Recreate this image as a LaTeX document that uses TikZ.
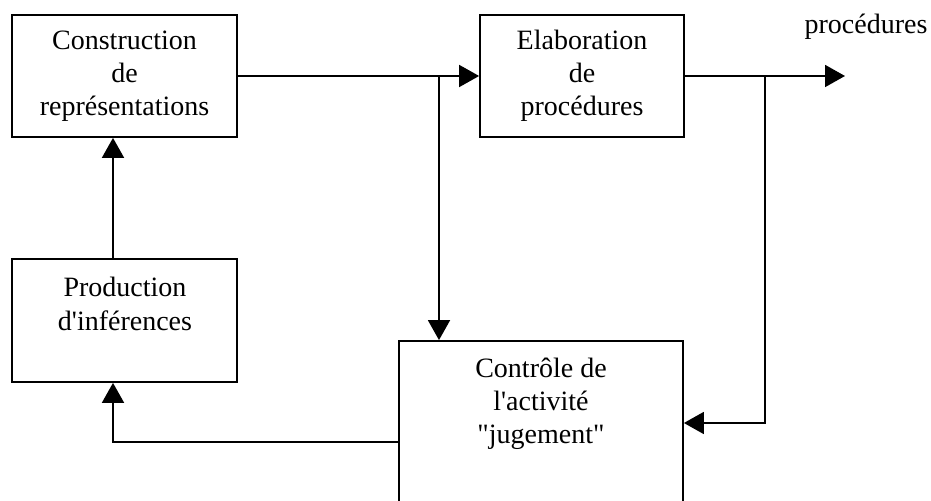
\documentclass[tikz,border=0pt]{standalone}
\usepackage{fontspec}
\setmainfont{Liberation Serif}[Ligatures=TeXOff]
\usetikzlibrary{arrows.meta}
\tikzset{box/.style={draw,line width=0.9pt,inner sep=0pt},
	txt/.style={align=center,font=\fontsize{14}{16.6}\selectfont},
	flow/.style={line width=0.9pt,-{Triangle[length=10pt,width=11pt]}}}
\begin{document}
\begin{tikzpicture}[x=0.5pt,y=-0.5pt]
		\clip (0,0) rectangle (931,501);
		\fill[white] (0,0) rectangle (931,501);
		\node [box,minimum width=112.5pt,minimum height=61pt] (constr) at (124.5,76) {};
		\node [box,minimum width=102pt,minimum height=61pt] (elab) at (582,76) {};
		\node [box,minimum width=112.5pt,minimum height=61.5pt] (prod) at (124.5,320.5) {};
		\node [box,minimum width=142pt,minimum height=100pt] (ctrl) at (541,441) {};
		\node [txt] (constrtxt) at (constr.center) {Construction\\de\\représentations};
		\node [txt] (elabtxt) at (elab.center) {Elaboration\\de\\procédures};
		\node [txt] (prodtxt) at (125,304) {Production\\d'inférences};
		\node [txt] (ctrltxt) at (541,404) {Contrôle de\\l'activité\\"jugement"};
		\node [txt] (outtxt) at (866,27) {procédures};
		\coordinate (split1) at (439,76);
		\coordinate (split2) at (765,76);
		\coordinate (out) at (845,76);
		\coordinate (back) at (765,423);
		\coordinate (feed) at (113,442);
		\draw[flow] (constr.east) -- (elab.west);
		\draw[flow] (split1) -- (split1 |- ctrl.north);
		\draw[flow] (elab.east) -- (out);
		\draw[flow] (split2) -- (back) -- (back -| ctrl.east);
		\draw[flow] (feed |- prod.north) -- (feed |- constr.south);
		\draw[flow] (feed -| ctrl.west) -- (feed) -- (feed |- prod.south);
	\end{tikzpicture}
\end{document}
